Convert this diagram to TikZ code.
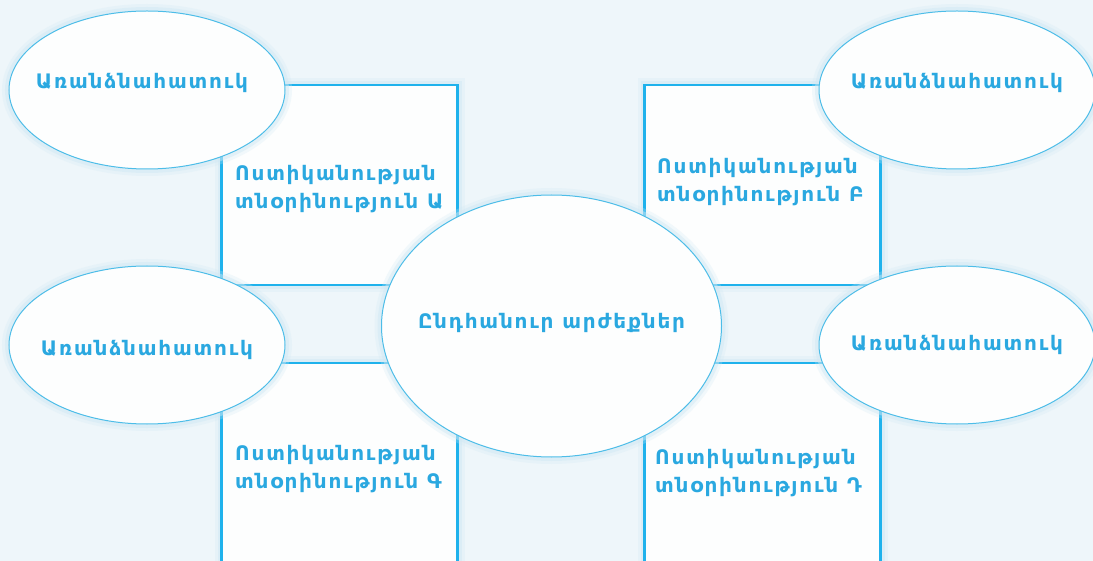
\documentclass[tikz,border=0pt]{standalone}
\usepackage{fontspec}
\usetikzlibrary{shapes.geometric}
\newfontfamily\armfont[LetterSpace=9]{DejaVu Sans}
\definecolor{bgblue}{HTML}{EEF6FA}
\definecolor{inkblue}{HTML}{2AA8E0}
\definecolor{edgeblue}{HTML}{1FB2EC}
\definecolor{rimblue}{HTML}{4DBDE8}
\definecolor{paper}{HTML}{FDFEFE}
\definecolor{glow}{HTML}{CFE8F4}
\tikzset{
  halo/.style={
    preaction={draw=glow, line width=14pt, opacity=0.25},
    preaction={draw=glow, line width=8pt, opacity=0.45}},
  panel/.style={draw=edgeblue, line width=2.2pt, fill=paper, rectangle,
      minimum width=236pt, minimum height=200pt, inner sep=0pt, halo},
  bubble/.style={draw=rimblue, line width=1pt, fill=paper, ellipse,
      minimum width=276pt, minimum height=158pt, inner sep=0pt, halo},
  hub/.style={draw=rimblue, line width=1pt, fill=paper, ellipse,
      minimum width=340pt, minimum height=262pt, inner sep=0pt, halo},
  label/.style={text=inkblue, font=\armfont\bfseries\fontsize{20}{28}\selectfont, inner sep=0pt},
  paneltext/.style={label, anchor=west, align=left},
}
\begin{document}
\begin{tikzpicture}[x=1pt, y=-1pt]
  \useasboundingbox (0,0) rectangle (1093,561);
  \clip (0,0) rectangle (1093,561);
  \fill[bgblue] (0,0) rectangle (1093,561);

  % four directorate panels
  \node[panel] (pa) at (339.5,185) {};
  \node[panel] (pb) at (762.5,185) {};
  \node[panel] (pc) at (339.5,463) {};
  \node[panel] (pd) at (762.5,463) {};

  \node[paneltext] (ta) at (235,189) {Ոստիկանության\\տնօրինություն Ա};
  \node[paneltext] (tb) at (657,182) {Ոստիկանության\\տնօրինություն Բ};
  \node[paneltext] (tc) at (235,469) {Ոստիկանության\\տնօրինություն Գ};
  \node[paneltext] (td) at (655,473) {Ոստիկանության\\տնօրինություն Դ};

  % the four "special" ellipses
  \node[bubble] (e1) at (147,90) {};
  \node[bubble] (e2) at (957,90) {};
  \node[bubble] (e3) at (147,345) {};
  \node[bubble] (e4) at (957,345) {};

  \node[label] (l1) at ([xshift=-5pt,yshift=7pt]e1.center) {Առանձնահատուկ};
  \node[label] (l2) at ([yshift=7pt]e2.center) {Առանձնահատուկ};
  \node[label] (l3) at ([yshift=-5pt]e3.center) {Առանձնահատուկ};
  \node[label] (l4) at ([yshift=0pt]e4.center) {Առանձնահատուկ};

  % shared values in the middle
  \node[hub] (hub) at (551.5,326) {};
  \node[label] (lh) at ([yshift=3pt]hub.center) {Ընդհանուր արժեքներ};
\end{tikzpicture}
\end{document}
